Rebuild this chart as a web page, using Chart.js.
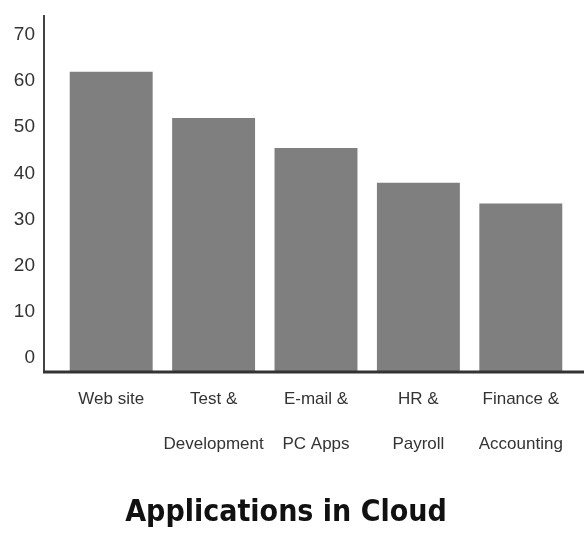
<!DOCTYPE html>
<html>
<head>
<meta charset="utf-8">
<script src="https://cdn.jsdelivr.net/npm/chart.js"></script>
<style>
  html, body { margin: 0; padding: 0; background: #fff; }
  #wrap { width: 584px; height: 548px; position: relative; }
</style>
</head>
<body>
<div id="wrap"><canvas id="chart"></canvas></div>
<script>
// data
const categories = [
    ['Web site'],
    ['Test &', 'Development'],
    ['E-mail &', 'PC Apps'],
    ['HR &', 'Payroll'],
    ['Finance &', 'Accounting']
];
const shares = [62, 52, 45.5, 38, 33.5];
const yTicks = [0, 10, 20, 30, 40, 50, 60, 70];
const yMin = -3;
const yMax = 74.3;

const sans = "'Liberation Sans', Arial, sans-serif";
const condensed = "'DejaVu Sans Condensed', 'Liberation Sans', sans-serif";

// axis lines sit a bit outside the bar area in the original
const axisLines = {
    id: 'axisLines',
    afterDraw(chart) {
        const c = chart.ctx;
        const area = chart.chartArea;
        c.save();
        c.strokeStyle = '#444';
        c.lineWidth = 2;
        c.beginPath();
        c.moveTo(44, area.top);
        c.lineTo(44, area.bottom);
        c.stroke();
        c.strokeStyle = '#333';
        c.lineWidth = 3;
        c.beginPath();
        c.moveTo(43, area.bottom);
        c.lineTo(chart.width, area.bottom);
        c.stroke();
        c.restore();
    }
};

const ctx = document.getElementById('chart').getContext('2d');
new Chart(ctx, {
    type: 'bar',
    data: {
        labels: categories,
        datasets: [{
            data: shares,
            base: yMin,
            backgroundColor: '#7f7f7f',
            borderWidth: 0,
            barPercentage: 0.81,
            categoryPercentage: 1
        }]
    },
    options: {
        responsive: true,
        maintainAspectRatio: false,
        animation: false,
        layout: { padding: { top: 15, right: 12, bottom: 0, left: 0 } },
        plugins: {
            legend: { display: false },
            tooltip: { enabled: false },
            title: {
                display: true,
                position: 'bottom',
                text: 'Applications in Cloud',
                color: '#111',
                font: { family: condensed, size: 30, weight: 'bold', lineHeight: 1.2 },
                padding: { top: 0, bottom: 17 }
            }
        },
        scales: {
            x: {
                grid: { display: false, drawTicks: false },
                border: { display: false },
                ticks: {
                    color: '#333',
                    font: { family: sans, size: 17, lineHeight: 2.65 },
                    padding: 5,
                    maxRotation: 0,
                    autoSkip: false
                },
                afterFit: function(scale) { scale.height = 123; }
            },
            y: {
                min: yMin,
                max: yMax,
                grid: { display: false, drawTicks: false },
                border: { display: false },
                ticks: {
                    color: '#333',
                    font: { family: sans, size: 19 },
                    padding: 25
                },
                afterBuildTicks: function(scale) {
                    scale.ticks = yTicks.map(v => ({ value: v }));
                },
                afterFit: function(scale) {
                    scale.width = 60;
                    scale.paddingTop = 0;
                    scale.paddingBottom = 0;
                }
            }
        }
    },
    plugins: [axisLines]
});
</script>
</body>
</html>
